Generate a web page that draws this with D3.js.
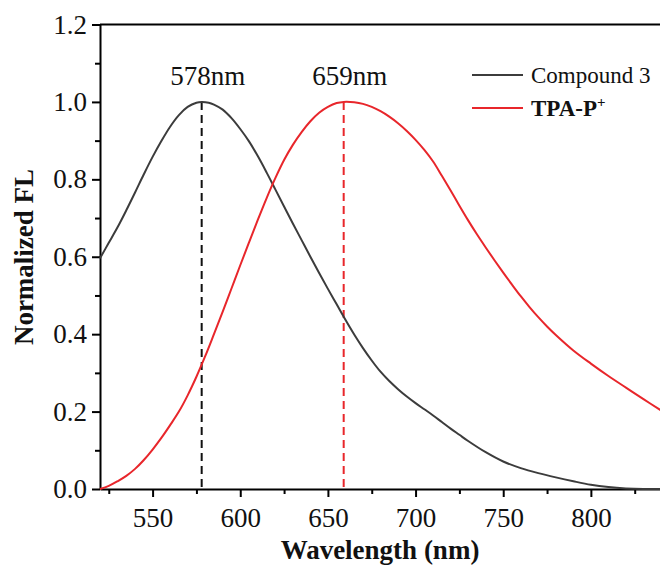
<!DOCTYPE html>
<html>
<head>
<meta charset="utf-8">
<script src="https://cdn.jsdelivr.net/npm/d3@7"></script>
<style>
  body { margin: 0; background: #fff; }
  svg { display: block; font-family: "Liberation Serif", "Times New Roman", serif; }
</style>
</head>
<body>
<script>
const width = 660;
const height = 568;

// Compound 3 spectrum
const wlCompound = [520, 525, 530, 535, 540, 545, 550, 555, 560, 565, 570, 575, 578, 582, 585, 590, 595, 600, 605, 610, 615, 620, 625, 630, 635, 640, 645, 650, 655, 660, 665, 670, 675, 680, 685, 690, 695, 700, 705, 710, 715, 720, 725, 730, 740, 750, 760, 770, 780, 790, 800, 810, 820, 830, 840];
const flCompound = [0.596, 0.636, 0.676, 0.72, 0.766, 0.813, 0.858, 0.899, 0.936, 0.966, 0.987, 0.998, 1.0, 0.998, 0.993, 0.98, 0.958, 0.93, 0.898, 0.86, 0.818, 0.774, 0.73, 0.686, 0.643, 0.6, 0.558, 0.517, 0.477, 0.437, 0.399, 0.364, 0.332, 0.303, 0.279, 0.258, 0.239, 0.222, 0.206, 0.19, 0.173, 0.156, 0.14, 0.124, 0.095, 0.071, 0.054, 0.041, 0.03, 0.02, 0.011, 0.005, 0.0015, 0, 0];

// TPA-P+ spectrum
const wlTpa = [520, 525, 530, 535, 540, 545, 550, 555, 560, 565, 570, 575, 580, 585, 590, 595, 600, 605, 610, 615, 620, 625, 630, 635, 640, 645, 650, 655, 659, 665, 670, 675, 680, 685, 690, 695, 700, 705, 710, 715, 720, 725, 730, 735, 740, 745, 750, 755, 760, 765, 770, 775, 780, 790, 800, 810, 820, 830, 840];
const flTpa = [0, 0.008, 0.02, 0.034, 0.052, 0.075, 0.102, 0.132, 0.165, 0.2, 0.242, 0.29, 0.343, 0.4, 0.458, 0.518, 0.578, 0.637, 0.695, 0.751, 0.803, 0.85, 0.889, 0.922, 0.95, 0.972, 0.987, 0.997, 1.0, 0.999, 0.995, 0.987, 0.976, 0.962, 0.945, 0.925, 0.902, 0.876, 0.846, 0.809, 0.771, 0.732, 0.694, 0.658, 0.624, 0.591, 0.559, 0.528, 0.498, 0.47, 0.444, 0.42, 0.398, 0.358, 0.324, 0.292, 0.262, 0.232, 0.203];

const peaks = [578, 659];
const peakLabels = ["578nm", "659nm"];
const seriesNames = ["Compound 3", "TPA-P"];
const colors = ["#3c3c3c", "#e8262b"];

const xMajor = [550, 600, 650, 700, 750, 800];
const xMinor = [525, 575, 625, 675, 725, 775, 825];
const yMajor = [0, 0.2, 0.4, 0.6, 0.8, 1.0, 1.2];
const yMinor = [0.1, 0.3, 0.5, 0.7, 0.9, 1.1];

const margin = { top: 24.5, left: 100, bottom: 489 };

const x = d3.scaleLinear().domain([520, 840]).range([margin.left, 661]);
const y = d3.scaleLinear().domain([0, 1.2]).range([margin.bottom, margin.top]);

const svg = d3.select("body").append("svg")
    .attr("width", width)
    .attr("height", height);

svg.append("rect").attr("width", width).attr("height", height).attr("fill", "#fff");

// minor ticks first
svg.append("g")
    .attr("transform", `translate(0,${margin.bottom})`)
    .call(d3.axisBottom(x).tickValues(xMinor).tickSize(5).tickFormat(""))
    .call(g => g.select(".domain").remove())
    .selectAll("line").attr("stroke-width", 2);

svg.append("g")
    .attr("transform", `translate(${margin.left},0)`)
    .call(d3.axisLeft(y).tickValues(yMinor).tickSize(5).tickFormat(""))
    .call(g => g.select(".domain").remove())
    .selectAll("line").attr("stroke-width", 2);

// major axes
const xAxis = svg.append("g")
    .attr("transform", `translate(0,${margin.bottom})`)
    .call(d3.axisBottom(x).tickValues(xMajor).tickSize(8).tickSizeOuter(0).tickPadding(11));
xAxis.select(".domain").attr("stroke-width", 2);
xAxis.selectAll(".tick line").attr("stroke-width", 2);
xAxis.selectAll("text").attr("font-size", 27).attr("font-family", "Liberation Serif").attr("fill", "#111");

const yAxis = svg.append("g")
    .attr("transform", `translate(${margin.left},0)`)
    .call(d3.axisLeft(y).tickValues(yMajor).tickFormat(d3.format(".1f")).tickSize(8).tickSizeOuter(0).tickPadding(5));
yAxis.select(".domain").attr("stroke-width", 2);
yAxis.selectAll(".tick line").attr("stroke-width", 2);
yAxis.selectAll("text").attr("font-size", 27).attr("font-family", "Liberation Serif").attr("fill", "#111");

// top frame line
svg.append("line")
    .attr("x1", x(520)).attr("x2", x(840))
    .attr("y1", y(1.2)).attr("y2", y(1.2))
    .attr("stroke", "#000").attr("stroke-width", 2);

// dashed peak markers
svg.selectAll(".peak")
    .data(peaks)
    .enter().append("line")
    .attr("class", "peak")
    .attr("x1", d => x(d)).attr("x2", d => x(d))
    .attr("y1", y(1.0)).attr("y2", y(0))
    .attr("stroke", (d, i) => i === 0 ? "#111" : colors[1])
    .attr("stroke-width", 2)
    .attr("stroke-dasharray", "8,5");

svg.selectAll(".peak-label")
    .data(peaks)
    .enter().append("text")
    .attr("class", "peak-label")
    .attr("x", d => x(d) + 6)
    .attr("y", 85)
    .attr("text-anchor", "middle")
    .attr("font-size", 27)
    .attr("fill", "#111")
    .text((d, i) => peakLabels[i]);

// spectra
const line = d3.line()
    .x(d => x(d[0]))
    .y(d => y(d[1]))
    .curve(d3.curveCatmullRom.alpha(0.5));

const series = [
    d3.zip(wlCompound, flCompound),
    d3.zip(wlTpa, flTpa)
];

svg.selectAll(".spectrum")
    .data(series)
    .enter().append("path")
    .attr("class", "spectrum")
    .attr("d", line)
    .attr("fill", "none")
    .attr("stroke", (d, i) => colors[i])
    .attr("stroke-width", 2);

// legend
const legend = svg.append("g");
seriesNames.forEach((name, i) => {
    const ly = 75 + i * 33;
    legend.append("line")
        .attr("x1", 472).attr("x2", 523)
        .attr("y1", ly).attr("y2", ly)
        .attr("stroke", colors[i]).attr("stroke-width", 2);
    const t = legend.append("text")
        .attr("x", 531).attr("y", ly + 8)
        .attr("font-size", 23)
        .attr("fill", "#111")
        .attr("font-weight", i === 1 ? "bold" : "normal")
        .text(name);
    if (i === 1) {
        t.append("tspan").attr("dy", -9).attr("font-size", 15).text("+");
    }
});

// axis titles
svg.append("text")
    .attr("x", 380)
    .attr("y", 559)
    .attr("text-anchor", "middle")
    .attr("font-size", 27)
    .attr("font-weight", "bold")
    .attr("fill", "#111")
    .text("Wavelength (nm)");

svg.append("text")
    .attr("transform", "translate(33,257) rotate(-90)")
    .attr("text-anchor", "middle")
    .attr("font-size", 27)
    .attr("font-weight", "bold")
    .attr("fill", "#111")
    .text("Normalized FL");
</script>
</body>
</html>
